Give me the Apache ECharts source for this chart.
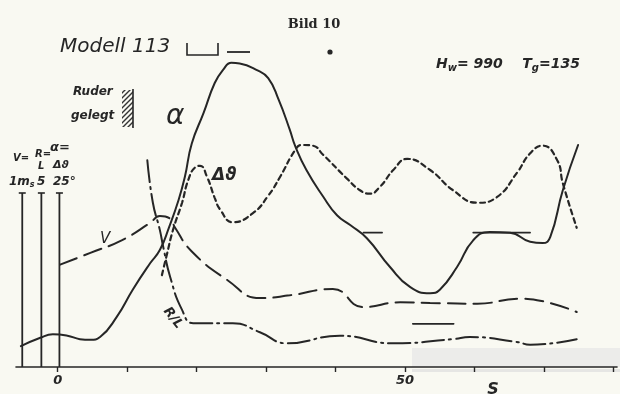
<!DOCTYPE html>
<html>
<head>
<meta charset="utf-8">
<script src="https://cdn.jsdelivr.net/npm/echarts@6/dist/echarts.min.js"></script>
<style>
html, body { margin: 0; background: #f9f9f2; }
#chart { width: 620px; height: 394px; }
</style>
</head>
<body>
<div id="chart"></div>
<script>
// Zeit in s (x), Ausschlag in Skalenteilen (y, 25 = Skalenendwert)
const alphaData = [
    [-5.3, 3.0], [-2.5, 4.2], [-0.7, 4.7], [1.4, 4.5], [3.2, 4.0], [4.7, 3.9], [6.1, 4.3],
    [8.5, 7.2], [10.8, 11.1], [13.3, 14.9], [14.7, 16.8], [16.0, 20.0], [17.4, 24.0],
    [18.3, 27.3], [19.3, 32.1], [21.0, 36.5], [22.6, 40.8], [23.8, 42.7], [25.0, 43.7],
    [26.2, 43.6], [28.6, 42.7], [30.3, 41.5], [31.8, 38.4], [33.4, 34.1], [34.2, 31.7],
    [35.8, 28.3], [38.2, 24.5], [40.2, 21.8], [42.1, 20.4], [44.5, 18.5], [47.8, 14.4],
    [50.7, 11.5], [53.6, 10.6], [55.0, 11.1], [57.5, 14.4], [59.8, 18.2], [62.2, 19.4],
    [65.1, 19.3], [68.0, 18.0], [69.8, 17.8], [70.9, 18.7], [72.7, 25.4], [74.9, 31.9]
];
const dThetaData = [
    [15.0, 13.2], [15.7, 16.1], [16.6, 19.7], [17.9, 23.6], [18.8, 26.9], [19.8, 28.7],
    [20.5, 28.9], [21.5, 27.3], [22.6, 24.3], [23.4, 22.6], [25.2, 20.8], [28.1, 22.1],
    [30.3, 24.6], [32.0, 27.3], [34.2, 31.2], [35.1, 31.9], [36.7, 31.8], [38.2, 30.5],
    [41.6, 27.1], [43.5, 25.4], [44.9, 24.9], [46.4, 25.9], [48.3, 28.3], [50.3, 29.9],
    [53.6, 28.3], [56.9, 25.4], [60.4, 23.6], [63.2, 24.4], [66.1, 27.9], [68.0, 30.7],
    [69.8, 31.8], [71.9, 29.7], [72.7, 26.4], [74.7, 20.0]
];
const vData = [
    [0.35, 14.7], [4.7, 16.4], [9.2, 18.2], [13.3, 20.7], [14.7, 21.7], [16.2, 21.3],
    [16.9, 20.0], [19.3, 16.6], [24.4, 12.5], [29.1, 9.9], [33.4, 10.3], [39.6, 11.2],
    [44.0, 8.6], [49.3, 9.3], [53.6, 9.2], [60.4, 9.1], [66.5, 9.8], [69.0, 9.6], [74.7, 7.9]
];
const rlData = [
    [12.9, 29.7], [13.7, 23.6], [14.7, 19.7], [15.2, 17.2], [16.2, 12.9], [17.9, 8.2],
    [19.5, 6.3], [25.2, 6.3], [29.1, 5.0], [33.0, 3.4], [40.6, 4.5], [48.3, 3.4],
    [56.9, 4.0], [59.3, 4.3], [66.1, 3.6], [68.0, 3.2], [74.7, 4.0]
];
// Ruder-Marken (kurze Striche)
const markA = [[44.0, 19.3], [46.7, 19.3]];
const markB = [[59.8, 19.3], [68.0, 19.3]];
const markC = [[51.1, 6.2], [57.0, 6.2]];
// Skalenstriche links: V, R/L, alpha
const scaleX = [-5.1, -2.35, 0.25];
const scaleTop = 25;
const xTicks = [0, 10, 20, 30, 40, 50, 60, 70, 80];
const xLabels = [0, 50];

const ink = '#262626';
const chartDom = document.getElementById('chart');
const myChart = echarts.init(chartDom);

// Schraffur
const hatch = document.createElement('canvas');
hatch.width = 5; hatch.height = 5;
const hc = hatch.getContext('2d');
hc.fillStyle = '#f9f9f2'; hc.fillRect(0, 0, 5, 5);
hc.strokeStyle = '#333'; hc.lineWidth = 1.4;
hc.beginPath(); hc.moveTo(0, 5); hc.lineTo(5, 0); hc.moveTo(-1, 1); hc.lineTo(1, -1); hc.moveTo(4, 6); hc.lineTo(6, 4); hc.stroke();

function curve(name, data, type, width) {
    return {
        name: name,
        type: 'line',
        data: data,
        smooth: 0.5,
        symbol: 'none',
        silent: true,
        lineStyle: { color: ink, width: width, type: type, cap: 'round' },
        z: 3
    };
}

const scaleSeries = scaleX.map(x => ({
    type: 'line',
    data: [{ value: [x, 0], symbol: 'none' }, { value: [x, scaleTop], symbol: 'rect', symbolSize: [7, 1.6] }],
    showSymbol: true,
    itemStyle: { color: ink },
    lineStyle: { color: ink, width: 1.8 },
    silent: true,
    animation: false
}));

// handschriftlicher Stil
function hand(extra) {
    return Object.assign({ fontFamily: 'DejaVu Sans', fontStyle: 'italic', fontWeight: 'bold', fill: ink, verticalAlign: 'middle' }, extra);
}

myChart.setOption({
    backgroundColor: '#f9f9f2',
    animation: false,
    grid: { left: 16, right: 3, top: 19, bottom: 27 },
    xAxis: {
        type: 'value',
        min: -6,
        max: 80.5,
        axisLine: { show: true, lineStyle: { color: ink, width: 1.6 } },
        axisTick: { show: true, customValues: xTicks, length: 5, lineStyle: { color: ink, width: 1.4 } },
        axisLabel: {
            customValues: xLabels,
            margin: 7,
            color: ink,
            fontFamily: 'DejaVu Sans',
            fontStyle: 'italic',
            fontWeight: 'bold',
            fontSize: 13
        },
        splitLine: { show: false }
    },
    yAxis: { type: 'value', min: 0, max: 50, show: false },
    series: [
        curve('alpha', alphaData, 'solid', 2),
        curve('dtheta', dThetaData, [5, 4], 2.2),
        curve('V', vData, [18, 8], 2),
        curve('R/L', rlData, [22, 5, 2, 5], 2),
        curve('m1', markA, 'solid', 1.6),
        curve('m2', markB, 'solid', 1.6),
        curve('m3', markC, 'solid', 1.6),
        ...scaleSeries
    ],
    graphic: [
        { type: 'rect', shape: { x: 412, y: 348, width: 208, height: 19 }, style: { fill: '#ececea' }, z: -1 },
        { type: 'rect', shape: { x: 412, y: 369, width: 208, height: 3 }, style: { fill: '#e6e6e4' }, z: -1 },
        { type: 'text', x: 314, y: 25, style: { text: 'Bild 10', fontFamily: 'DejaVu Serif', fontWeight: 'bold', fontSize: 13, fill: ink, align: 'center', verticalAlign: 'middle' } },
        { type: 'text', x: 60, y: 47, style: hand({ text: 'Modell 113', fontSize: 20, fontWeight: 'normal' }) },
        { type: 'polyline', shape: { points: [[187, 43], [187, 55], [218, 55], [218, 43]] }, style: { stroke: ink, lineWidth: 1.6, fill: null } },
        { type: 'line', shape: { x1: 227, y1: 52, x2: 250, y2: 52 }, style: { stroke: ink, lineWidth: 1.8 } },
        { type: 'circle', shape: { cx: 330, cy: 52, r: 2.6 }, style: { fill: ink } },
        {
            type: 'text', x: 436, y: 64,
            style: {
                text: '{a|H}{s|w}{a|= 990    T}{s|g}{a|=135}',
                verticalAlign: 'middle',
                rich: {
                    a: { fontFamily: 'DejaVu Sans', fontStyle: 'italic', fontWeight: 'bold', fontSize: 14, fill: ink },
                    s: { fontFamily: 'DejaVu Sans', fontStyle: 'italic', fontWeight: 'bold', fontSize: 10, fill: ink, padding: [8, 0, 0, 0] }
                }
            }
        },
        { type: 'text', x: 73, y: 92, style: hand({ text: 'Ruder', fontSize: 12 }) },
        { type: 'text', x: 71, y: 116, style: hand({ text: 'gelegt', fontSize: 12 }) },
        { type: 'rect', shape: { x: 122, y: 90, width: 11, height: 37 }, style: { fill: { image: hatch, repeat: 'repeat' } } },
        { type: 'line', shape: { x1: 133, y1: 89, x2: 133, y2: 128 }, style: { stroke: ink, lineWidth: 1.6 } },
        // Skalenbeschriftung
        { type: 'text', x: 13, y: 158, style: hand({ text: 'V=', fontSize: 10 }) },
        { type: 'text', x: 9, y: 182, style: { text: '{a|1m}{s|s}', verticalAlign: 'middle', rich: { a: hand({ fontSize: 12 }), s: hand({ fontSize: 8, padding: [6, 0, 0, 0] }) } } },
        { type: 'text', x: 35, y: 154, style: hand({ text: 'R=', fontSize: 10 }) },
        { type: 'text', x: 38, y: 166, style: hand({ text: 'L', fontSize: 10 }) },
        { type: 'text', x: 37, y: 182, style: hand({ text: '5', fontSize: 12 }) },
        { type: 'text', x: 50, y: 148, style: hand({ text: 'α=', fontSize: 13 }) },
        { type: 'text', x: 53, y: 165, style: hand({ text: 'Δϑ', fontSize: 11 }) },
        { type: 'text', x: 53, y: 182, style: hand({ text: '25°', fontSize: 12 }) },
        // Kurvennamen
        { type: 'text', x: 166, y: 117, style: hand({ text: 'α', fontSize: 28, fontWeight: 'normal' }) },
        { type: 'text', x: 212, y: 176, style: hand({ text: 'Δϑ', fontSize: 17 }) },
        { type: 'text', x: 100, y: 239, style: hand({ text: 'V', fontSize: 15, fontWeight: 'normal' }) },
        { type: 'text', x: 173, y: 318, rotation: -0.9, style: hand({ text: 'R/L', fontSize: 13, align: 'center' }) },
        { type: 'text', x: 493, y: 390, style: hand({ text: 'S', fontSize: 16, align: 'center' }) }
    ]
});

window.onresize = function () {
    myChart.resize();
}
</script>
</body>
</html>
